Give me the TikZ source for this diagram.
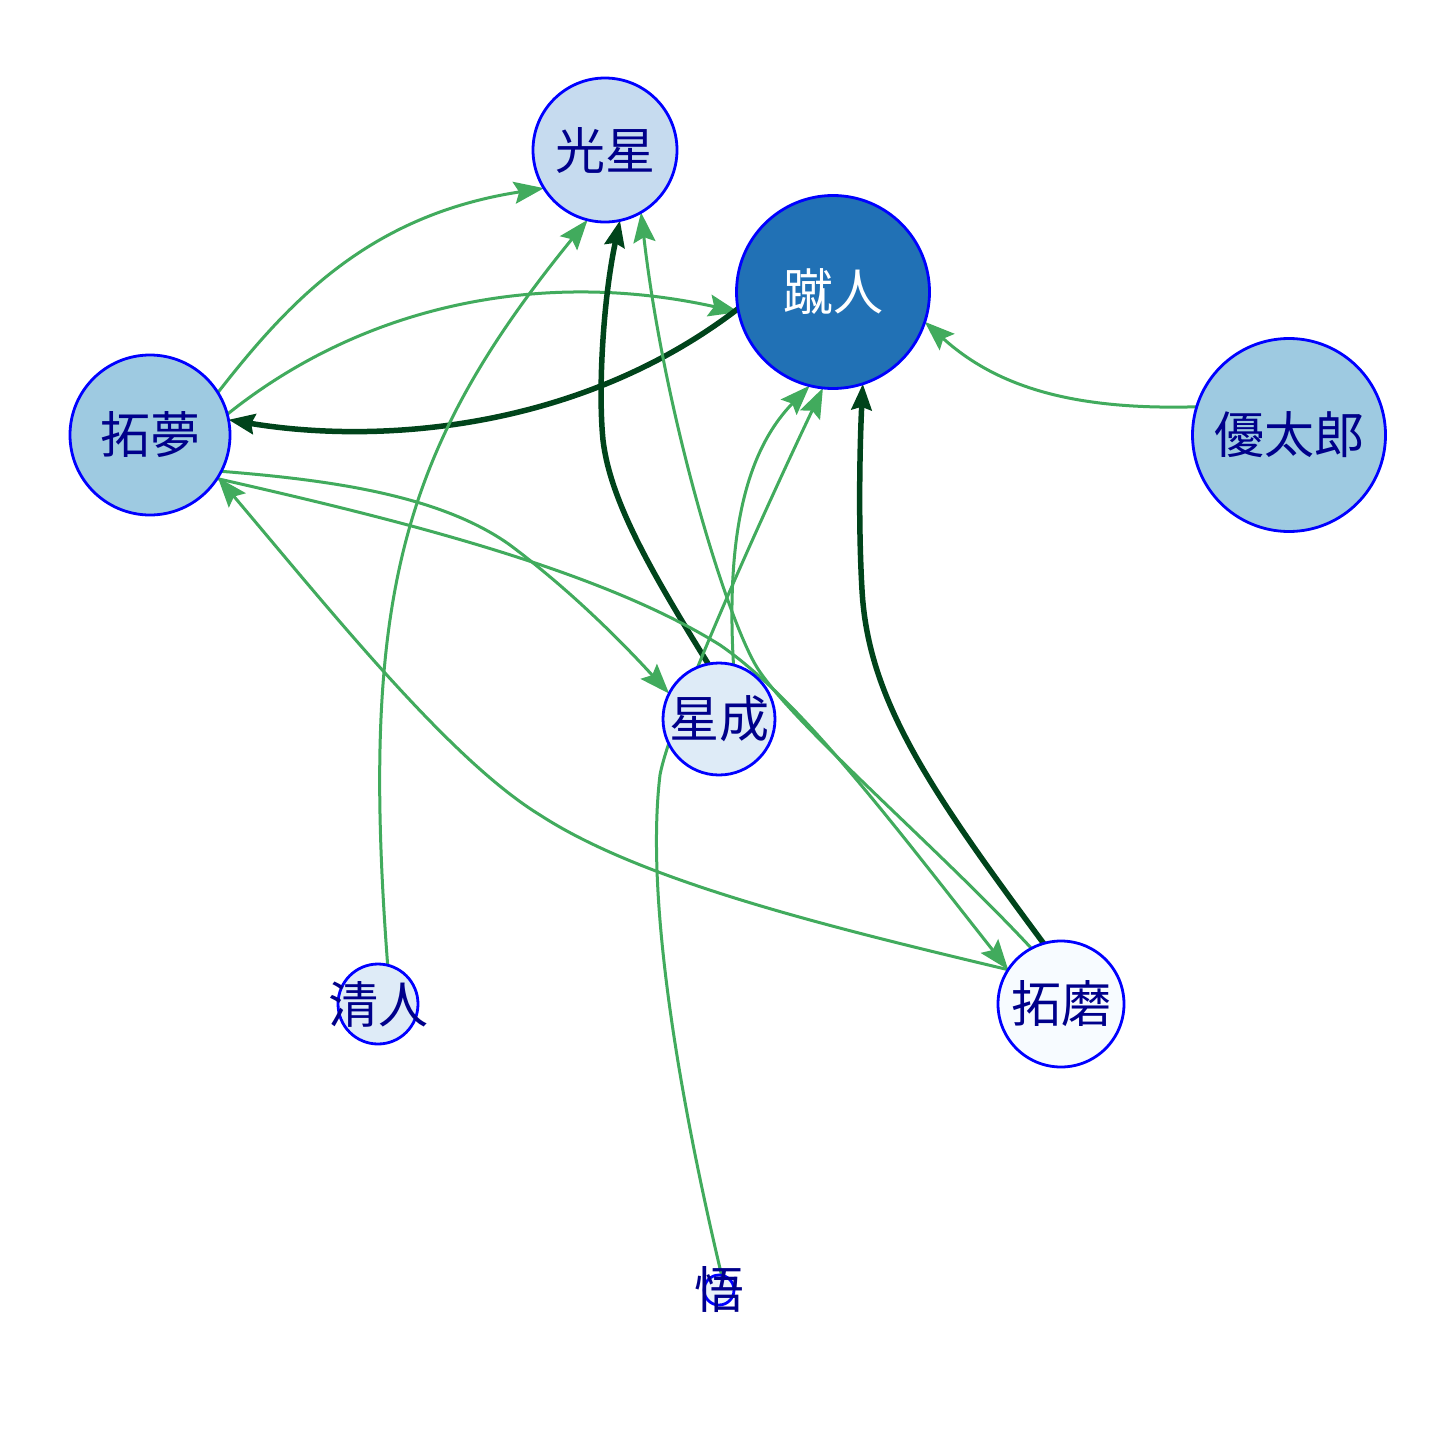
\documentclass[tikz,border=0pt]{standalone}
\usepackage{fontspec}
\newfontfamily\cjk{Noto Sans CJK JP}
\usetikzlibrary{arrows.meta}
\pgfdeclarelayer{background}
\pgfsetlayers{background,main}
\definecolor{lg}{HTML}{41AB5D}
\definecolor{dg}{HTML}{00441B}
\definecolor{navytext}{HTML}{00008B}
\definecolor{f1}{HTML}{C6DBEF}
\definecolor{f2}{HTML}{2171B5}
\definecolor{f3}{HTML}{9ECAE1}
\definecolor{f4}{HTML}{DEEBF7}
\definecolor{f5}{HTML}{F7FBFF}
\definecolor{f6}{HTML}{EAF2FA}
\begin{document}
\begin{tikzpicture}[x=1pt,y=-1pt,
  vtx/.style={circle,draw=blue,line width=2.8pt,inner sep=0pt,outer sep=0pt},
  txt/.style={font=\cjk\fontsize{50}{60}\selectfont,text=navytext,inner sep=0pt},
  lite/.style={draw=lg,line width=3pt,-{Stealth[length=30pt,width=22pt,inset=5pt]}},
  dark/.style={draw=dg,line width=5.5pt,-{Stealth[length=26pt,width=20pt,inset=3pt]}}]
\useasboundingbox (0,0) rectangle (1440,1440);

\node[vtx,fill=f1,minimum size=144pt,label={[txt]center:光星}] (G) at (605,150) {};
\node[vtx,fill=f2,minimum size=193pt,label={[txt,text=white]center:蹴人}] (S) at (833,292) {};
\node[vtx,fill=f3,minimum size=160pt,label={[txt]center:拓夢}] (T) at (150,435) {};
\node[vtx,fill=f3,minimum size=193pt,label={[txt]center:優太郎}] (Y) at (1289,435) {};
\node[vtx,fill=f4,minimum size=112pt,label={[txt]center:星成}] (H) at (719,719) {};
\node[vtx,fill=f4,minimum size=80pt,label={[txt]center:清人}] (K) at (378,1004) {};
\node[vtx,fill=f5,minimum size=126pt,label={[txt]center:拓磨}] (M) at (1061,1004) {};
\node[vtx,fill=f6,minimum size=30pt,label={[txt]center:悟}] (O) at (719,1290) {};

\begin{pgfonlayer}{background}
\fill[white] (0,0) rectangle (1440,1440);
\draw[lite] (T.32) .. controls (290,300) and (370,215) .. (G.212);
\draw[lite] (T.15) .. controls (370,300) and (550,270) .. (S.192);
\draw[dark] (S.190) .. controls (580,430) and (380,445) .. (T.11);
\draw[lite] (K.76) .. controls (360,600) and (400,450) .. (G.256);
\draw[dark] (H.101) .. controls (650,570) and (610,500) .. (603,440) .. controls (598,390) and (603,300) .. (G.282);
\draw[lite] (M.118) .. controls (940,850) and (800,730) .. (760,672) .. controls (730,630) and (665,420) .. (G.300);
\draw[lite] (T.333) .. controls (330,480) and (440,495) .. (510,545) .. controls (570,590) and (620,640) .. (H.153);
\draw[lite] (H.75) .. controls (725,520) and (752,445) .. (S.256);
\draw[lite] (O.80) .. controls (680,1100) and (645,900) .. (660,775) .. controls (670,720) and (760,520) .. (S.264);
\draw[dark] (M.106) .. controls (930,790) and (868,700) .. (862,590) .. controls (858,520) and (860,440) .. (S.288);
\draw[lite] (Y.163) .. controls (1080,410) and (1000,390) .. (S.342);
\draw[lite] (M.147) .. controls (820,925) and (640,880) .. (540,815) .. controls (450,760) and (330,610) .. (T.328);
\draw[lite] (T.327) .. controls (400,520) and (600,570) .. (720,645) .. controls (800,700) and (890,820) .. (M.147);
\end{pgfonlayer}
\end{tikzpicture}
\end{document}
